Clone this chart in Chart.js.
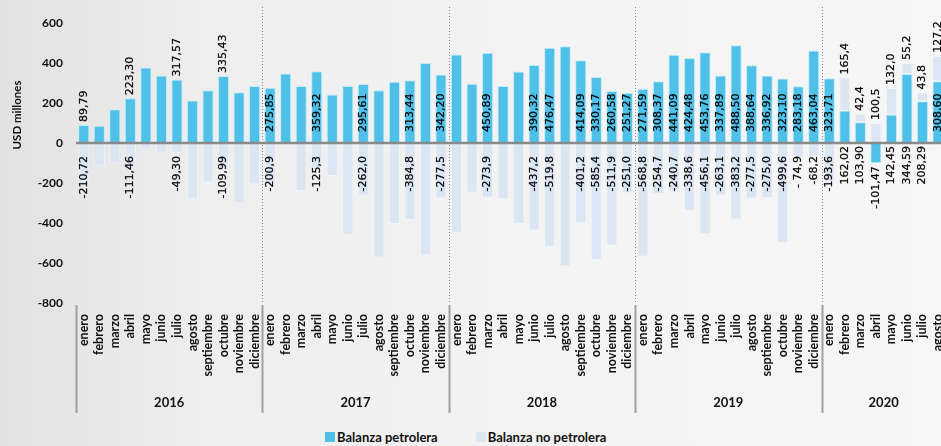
<!DOCTYPE html>
<html lang="es">
<head>
<meta charset="UTF-8">
<title>Balanza petrolera y no petrolera</title>
<script src="https://cdn.jsdelivr.net/npm/chart.js"></script>
<style>
  html, body { margin: 0; padding: 0; width: 941px; height: 446px; overflow: hidden; }
  body {
    position: relative;
    background: linear-gradient(90deg, #e2e2e2 0%, #eeeeee 22%, #f3f3f3 55%, #f6f6f6 100%);
    font-family: Lato, "Liberation Sans", sans-serif;
  }
  #wrap { position: absolute; left: 0; top: 0; }
  #legend {
    position: absolute; top: 429px; left: 325px;
    font-weight: bold; font-size: 13px; color: #111;
    display: flex; align-items: center; white-space: nowrap;
  }
  #legend .sw { display: inline-block; width: 10px; height: 10px; margin-right: 2px; }
  #legend .item { display: flex; align-items: center; margin-right: 38px; }
</style>
</head>
<body>
<div id="wrap"><canvas id="chart" width="964" height="420"></canvas></div>
<div id="legend">
  <span class="item"><span class="sw" style="background:#4fc1e9"></span>Balanza petrolera</span>
  <span class="item"><span class="sw" style="background:#dce6f2"></span>Balanza no petrolera</span>
</div>

<script>
// categorias
const months = ['enero', 'febrero', 'marzo', 'abril', 'mayo', 'junio', 'julio', 'agosto',
                'septiembre', 'octubre', 'noviembre', 'diciembre'];
const years = ['2016', '2017', '2018', '2019', '2020'];
const monthsPerYear = [12, 12, 12, 12, 8];

// USD millones
const petrolera = [
  89.79, 86, 169, 223.30, 378, 338, 317.57, 212, 264, 335.43, 254, 285,
  275.85, 348, 285, 359.32, 243, 285, 295.61, 264, 306, 313.44, 400, 342.20,
  442, 296, 450.89, 285, 358, 390.32, 476.47, 484, 414.09, 330.17, 260.58, 251.27,
  271.59, 308.37, 441.09, 424.48, 453.76, 337.89, 488.50, 388.64, 336.92, 323.10, 283.18, 463.04,
  323.71, 162.02, 103.90, -101.47, 142.45, 344.59, 208.29, 308.60
];
const noPetrolera = [
  -210.72, -113, -103, -111.46, -27, -49, -49.30, -281, -197, -109.99, -301, -207,
  -200.9, -4, -240, -125.3, -165, -459, -262.0, -573, -405, -384.8, -563, -277.5,
  -449, -249, -273.9, -281, -405, -437.2, -519.8, -617, -401.2, -585.4, -511.9, -251.0,
  -568.8, -254.7, -240.7, -338.6, -456.1, -263.1, -383.2, -277.5, -275.0, -499.6, -74.9, -68.2,
  -193.6, 165.4, 42.4, 100.5, 132.0, 55.2, 43.8, 127.2
];

// etiquetas de datos (null = sin etiqueta)
const petroText = [
  '89,79', null, null, '223,30', null, null, '317,57', null, null, '335,43', null, null,
  '275,85', null, null, '359,32', null, null, '295,61', null, null, '313,44', null, '342,20',
  null, null, '450,89', null, null, '390,32', '476,47', null, '414,09', '330,17', '260,58', '251,27',
  '271,59', '308,37', '441,09', '424,48', '453,76', '337,89', '488,50', '388,64', '336,92', '323,10', '283,18', '463,04',
  '323,71', '162,02', '103,90', '-101,47', '142,45', '344,59', '208,29', '308,60'
];
const noPetroText = [
  '-210,72', null, null, '-111,46', null, null, '-49,30', null, null, '-109,99', null, null,
  '-200,9', null, null, '-125,3', null, null, '-262,0', null, null, '-384,8', null, '-277,5',
  null, null, '-273,9', null, null, '-437,2', '-519,8', null, '-401,2', '-585,4', '-511,9', '-251,0',
  '-568,8', '-254,7', '-240,7', '-338,6', '-456,1', '-263,1', '-383,2', '-277,5', '-275,0', '-499,6', '- 74,9', '-68,2',
  '-193,6', '165,4', '42,4', '100,5', '132,0', '55,2', '43,8', '127,2'
];
// 2020 months whose oil label sits under the axis
const underAxis2020 = ['febrero', 'marzo', 'abril', 'mayo', 'junio', 'julio'];

const labels = [];
const yearOf = [];
years.forEach((y, k) => {
  months.slice(0, monthsPerYear[k]).forEach(m => { labels.push(m); yearOf.push(k); });
});

function rotText(ctx, txt, x, y, align) {
  ctx.save();
  ctx.translate(x, y);
  ctx.rotate(-Math.PI / 2);
  ctx.textAlign = align;
  ctx.textBaseline = 'middle';
  ctx.fillText(txt, 0, 0);
  ctx.strokeText(txt, 0, 0);
  ctx.restore();
}

// zero line, data labels, year groups, axis title
const extras = {
  id: 'extras',
  afterDatasetsDraw(chart) {
    const ctx = chart.ctx;
    const area = chart.chartArea;
    const y0 = chart.scales.y.getPixelForValue(0);
    ctx.save();
    ctx.strokeStyle = '#8a8a8a';
    ctx.lineWidth = 2.5;
    ctx.beginPath();
    ctx.moveTo(area.left, y0);
    ctx.lineTo(area.right, y0);
    ctx.stroke();

    const m0 = chart.getDatasetMeta(0), m1 = chart.getDatasetMeta(1);
    ctx.font = '11px "DejaVu Sans"';
    ctx.fillStyle = '#000';
    ctx.strokeStyle = 'rgba(0,0,0,0.6)';
    ctx.lineWidth = 0.35;
    for (let i = 0; i < labels.length; i++) {
      const b = m0.data[i];
      if (petroText[i]) {
        const yr = yearOf[i];
        if (yr === 0) {
          rotText(ctx, petroText[i], b.x, Math.min(b.y, b.base) - 3, 'left');
        } else if (yr === 4 && underAxis2020.includes(labels[i])) {
          rotText(ctx, petroText[i], b.x, Math.max(b.y, b.base, y0) + 3, 'right');
        } else {
          rotText(ctx, petroText[i], b.x, y0 - 11, 'left');
        }
      }
      const c = m1.data[i];
      if (noPetroText[i]) {
        if (noPetrolera[i] < 0) {
          rotText(ctx, noPetroText[i], c.x, y0 + 13, 'right');
        } else {
          rotText(ctx, noPetroText[i], c.x, Math.min(c.y, c.base) - 3, 'left');
        }
      }
    }
    ctx.restore();
  },
  afterDraw(chart) {
    const ctx = chart.ctx;
    const area = chart.chartArea;
    const xs = chart.scales.x;
    ctx.save();
    let start = 0;
    const bounds = [area.left];
    monthsPerYear.forEach(n => {
      start += n;
      if (start < labels.length) {
        bounds.push((xs.getPixelForValue(start - 1) + xs.getPixelForValue(start)) / 2);
      } else {
        bounds.push(area.right);
      }
    });
    // separators
    for (let k = 0; k < bounds.length - 1; k++) {
      const x = Math.round(bounds[k]) + 0.5;
      if (k > 0) {
        ctx.strokeStyle = '#8c8c8c';
        ctx.lineWidth = 1;
        ctx.setLineDash([1, 2]);
        ctx.beginPath();
        ctx.moveTo(x, area.top - 16);
        ctx.lineTo(x, area.bottom);
        ctx.stroke();
      }
      ctx.setLineDash([]);
      ctx.strokeStyle = '#a0a0a0';
      ctx.lineWidth = 2;
      ctx.beginPath();
      ctx.moveTo(x, area.bottom + 2);
      ctx.lineTo(x, area.bottom + 110);
      ctx.stroke();
    }
    // years
    ctx.fillStyle = '#111';
    ctx.font = 'bold 13px Lato';
    ctx.textAlign = 'center';
    ctx.textBaseline = 'middle';
    years.forEach((y, k) => {
      ctx.fillText(y, (bounds[k] + bounds[k + 1]) / 2, area.bottom + 100);
    });
    // axis title
    ctx.font = 'bold 11.5px Lato';
    ctx.translate(17, 115);
    ctx.rotate(-Math.PI / 2);
    ctx.fillText('USD millones', 0, 0);
    ctx.restore();
  }
};

new Chart(document.getElementById('chart'), {
  type: 'bar',
  data: {
    labels: labels,
    datasets: [
      { label: 'Balanza petrolera', data: petrolera, backgroundColor: '#4fc1e9',
        borderColor: 'rgba(190,235,250,0.9)', borderWidth: 1, borderSkipped: false },
      { label: 'Balanza no petrolera', data: noPetrolera, backgroundColor: '#dce6f2',
        borderColor: 'rgba(240,245,252,0.9)', borderWidth: 1, borderSkipped: false }
    ]
  },
  options: {
    responsive: false,
    animation: false,
    layout: { padding: { top: 23, left: 0, right: 0, bottom: 0 } },
    datasets: { bar: { barPercentage: 0.72, categoryPercentage: 1 } },
    plugins: {
      legend: { display: false },
      tooltip: { enabled: false }
    },
    scales: {
      x: {
        stacked: true,
        grid: { display: false, drawTicks: false },
        border: { display: false },
        ticks: {
          autoSkip: false, maxRotation: 90, minRotation: 90, padding: 11,
          color: '#111', font: { family: 'Lato', weight: 'bold', size: 12.5 }
        },
        afterFit: s => { s.height = 117; }
      },
      y: {
        stacked: true,
        min: -800, max: 600,
        grid: { display: false, drawTicks: false },
        border: { display: false },
        ticks: {
          stepSize: 200, padding: 13,
          color: '#111', font: { family: 'Lato', weight: 'bold', size: 12 }
        },
        afterFit: s => { s.width = 76; }
      }
    }
  },
  plugins: [extras]
});
</script>
</body>
</html>
